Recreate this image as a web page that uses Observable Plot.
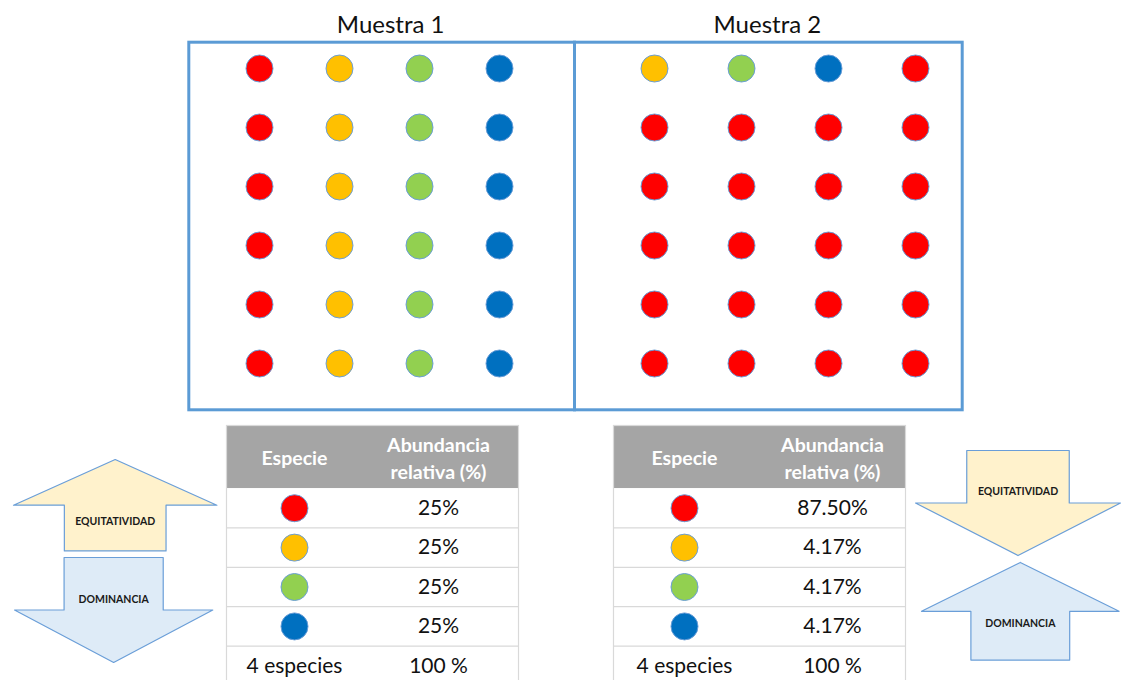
<!DOCTYPE html>
<html><head><meta charset="utf-8">
<script src="https://cdn.jsdelivr.net/npm/d3@7"></script>
<script src="https://cdn.jsdelivr.net/npm/@observablehq/plot@0.6"></script>
<style>
body{margin:0;background:#fff;}
#root{position:relative;width:1121px;height:680px;overflow:hidden;background:#fff;}
#root svg{position:absolute;overflow:visible;}
</style></head><body><div id="root"></div>
<script>
// ---- data ----
const especies = ["roja", "amarilla", "verde", "azul"];
const colores = ["#ff0000", "#ffc000", "#92d050", "#0070c0"];
const columnas = [0, 1, 2, 3];
const filas = [0, 1, 2, 3, 4, 5];
const muestra1 = [
  ["roja", "amarilla", "verde", "azul"],
  ["roja", "amarilla", "verde", "azul"],
  ["roja", "amarilla", "verde", "azul"],
  ["roja", "amarilla", "verde", "azul"],
  ["roja", "amarilla", "verde", "azul"],
  ["roja", "amarilla", "verde", "azul"]
];
const muestra2 = [
  ["amarilla", "verde", "azul", "roja"],
  ["roja", "roja", "roja", "roja"],
  ["roja", "roja", "roja", "roja"],
  ["roja", "roja", "roja", "roja"],
  ["roja", "roja", "roja", "roja"],
  ["roja", "roja", "roja", "roja"]
];
const titulos = ["Muestra 1", "Muestra 2"];
const columnasTabla = ["Especie", "Abundancia"];
const encabezados = ["Especie", "Abundancia\nrelativa (%)"];
const abundancia1 = [25, 25, 25, 25];
const abundancia2 = [87.50, 4.17, 4.17, 4.17];
const totales = ["4 especies", "100 %"];
const etiquetasFlecha = ["EQUITATIVIDAD", "DOMINANCIA"];

// ---- layout ----
const root = document.getElementById("root");
const FONT = "Lato, 'Open Sans', sans-serif";
const AZUL_BORDE = "#5b9bd5";
function place(svg, x, y) {
  svg.style.left = x + "px";
  svg.style.top = y + "px";
  root.append(svg);
}

function panel(grid, titulo, L) {
  const datos = grid.flatMap((fila, r) => fila.map((sp, c) => ({fila: r, col: c, especie: sp})));
  const svg = Plot.plot({
    width: L.width, height: L.height,
    marginTop: L.top, marginLeft: L.left, marginRight: L.right, marginBottom: L.bottom,
    x: {type: "point", domain: columnas, range: L.xRange, padding: 0, axis: null},
    y: {type: "point", domain: filas, range: L.yRange, padding: 0, axis: null},
    color: {domain: especies, range: colores},
    style: {fontFamily: FONT, background: "transparent"},
    marks: [
      Plot.frame({stroke: AZUL_BORDE, strokeWidth: 3}),
      Plot.dot(datos, {x: "col", y: "fila", fill: "especie", r: 13.5, stroke: "#6a9ed8", strokeWidth: 1}),
      Plot.text([titulo], {text: d => d, frameAnchor: "top", lineAnchor: "bottom", dy: L.titleDy, dx: L.titleDx, fontSize: 24, fill: "#111"})
    ]
  });
  place(svg, L.pageX, 0);
}

panel(muestra1, titulos[0], {pageX: 186, width: 390, height: 412, top: 41.7, left: 2.3, right: 2, bottom: 2.7,
  xRange: [73, 313], yRange: [67, 363], titleDx: 9, titleDy: -9.4});
panel(muestra2, titulos[1], {pageX: 572, width: 392, height: 412, top: 41.7, left: 2, right: 2.3, bottom: 2.7,
  xRange: [80.7, 344], yRange: [67, 363], titleDx: -1, titleDy: -9.4});

function tabla(valores, formato, L) {
  const filasT = valores.map((v, i) => ({i, especie: especies[i], valor: formato(v)}));
  const W = 292, H = 260;
  const svg = Plot.plot({
    width: W, height: H, margin: 0,
    x: {type: "point", domain: columnasTabla, range: L.xRange, padding: 0, axis: null},
    y: {domain: [-1.6, 5], range: [0, H], axis: null},
    color: {domain: especies, range: colores},
    style: {fontFamily: FONT, background: "transparent"},
    marks: [
      Plot.rect([0], {y1: () => -1.6, y2: () => 0, fill: "#a5a5a5"}),
      Plot.ruleY([1, 2, 3, 4], {stroke: "#d9d9d9", strokeWidth: 1.2}),
      Plot.frame({stroke: "#d9d9d9", strokeWidth: 1.2}),
      Plot.text(encabezados, {x: (d, i) => columnasTabla[i], y: () => -0.8, text: d => d,
        fill: "white", fontWeight: "bold", fontSize: 19.5, lineHeight: 1.35}),
      Plot.dot(filasT, {x: () => "Especie", y: d => d.i + 0.5, fill: "especie", r: 13.5, stroke: "#6a9ed8", strokeWidth: 1}),
      Plot.text(filasT, {x: () => "Abundancia", y: d => d.i + 0.5, text: "valor", fontSize: 21, fill: "#111"}),
      Plot.text(totales, {x: (d, i) => columnasTabla[i], y: () => 4.5, text: d => d, fontSize: 21, fill: "#111"})
    ]
  });
  place(svg, L.pageX, L.pageY);
}

tabla(abundancia1, v => v + "%", {pageX: 226, pageY: 425, xRange: [68, 212.5]});
tabla(abundancia2, v => v.toFixed(2) + "%", {pageX: 613, pageY: 425, xRange: [71, 219]});

// block-arrow outline in arrow units (tip at y=0, tail at y=1)
const formaFlecha = [[0, 0], [1, 0.5], [0.5, 0.5], [0.5, 1], [-0.5, 1], [-0.5, 0.5], [-1, 0.5], [0, 0]];
function flecha(etiqueta, relleno, L) {
  const pad = 3;
  const top = Math.min(L.punta, L.cola) - pad;
  const h = Math.abs(L.cola - L.punta) + 2 * pad;
  const w = L.der - L.izq + 2 * pad;
  const svg = Plot.plot({
    width: w, height: h, margin: 0,
    x: {domain: [-1, 1], range: [pad, w - pad], axis: null},
    y: {domain: [0, 1], range: [L.punta - top, L.cola - top], axis: null},
    style: {fontFamily: FONT, background: "transparent"},
    marks: [
      Plot.line(formaFlecha, {x: d => d[0], y: d => d[1], fill: relleno, stroke: "#6a9ed8", strokeWidth: 1.2}),
      Plot.text([etiqueta], {x: () => 0, y: () => L.etiquetaY, text: d => d, fontWeight: "bold", fontSize: 10.5, fill: "#1a1a1a"})
    ]
  });
  place(svg, L.izq - pad, top);
}
const AMARILLO = "#fff2cc", CELESTE = "#deebf7";
flecha(etiquetasFlecha[0], AMARILLO, {izq: 13.3, der: 216.7, punta: 459.3, cola: 550.7, etiquetaY: 0.68});
flecha(etiquetasFlecha[1], CELESTE, {izq: 14, der: 212.3, punta: 661.7, cola: 556.7, etiquetaY: 0.6});
flecha(etiquetasFlecha[0], AMARILLO, {izq: 915, der: 1120, punta: 555, cola: 450, etiquetaY: 0.61});
flecha(etiquetasFlecha[1], CELESTE, {izq: 920.7, der: 1118.3, punta: 561.7, cola: 659.3, etiquetaY: 0.63});
</script></body></html>
